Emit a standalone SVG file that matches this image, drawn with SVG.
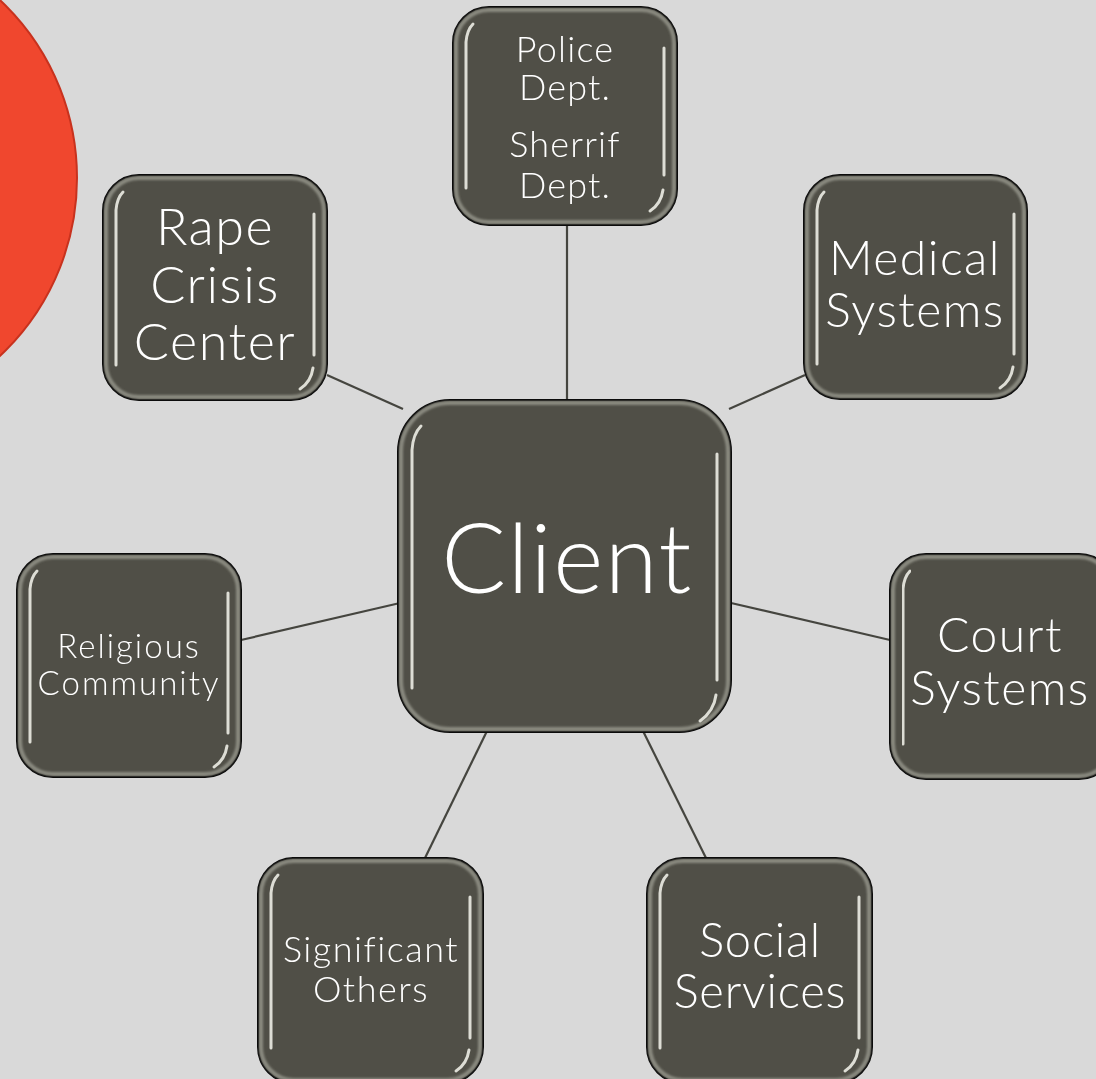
<svg xmlns="http://www.w3.org/2000/svg" width="1096" height="1079" viewBox="0 0 1096 1079">
<defs>
<style>
.box{fill:#504f47;stroke:#000;stroke-width:2}
.ring{fill:none;stroke:#8a8a80;stroke-width:4}
.hl{fill:none;stroke:#ecece4;stroke-width:3;stroke-linecap:round;opacity:0.9}
.t{fill:#fff;font-family:Lato,"Noto Sans",sans-serif;font-weight:300;text-anchor:middle}
.c{stroke:#45453f;stroke-width:2.2;fill:none}
</style>
<filter id="soft" x="-10%" y="-10%" width="120%" height="120%"><feGaussianBlur stdDeviation="1.2"/></filter>
<filter id="soft2" x="-10%" y="-10%" width="120%" height="120%"><feGaussianBlur stdDeviation="0.7"/></filter>
</defs>
<rect width="1096" height="1079" fill="#d9d9d9"/>
<circle cx="-167" cy="178" r="244" fill="#f0472e" stroke="#c8321e" stroke-width="2"/>
<g id="connectors">
<line class="c" x1="567" y1="225" x2="567" y2="401"/>
<line class="c" x1="327" y1="375" x2="403" y2="409"/>
<line class="c" x1="805" y1="375" x2="729" y2="409"/>
<line class="c" x1="241" y1="640" x2="400" y2="603"/>
<line class="c" x1="731" y1="603" x2="890" y2="640"/>
<line class="c" x1="425" y1="858" x2="487" y2="731"/>
<line class="c" x1="643" y1="731" x2="706" y2="858"/>
</g>
<g id="police">
<rect class="box" x="453" y="7" width="224" height="218" rx="36"/>
<rect class="ring" x="456" y="10" width="218" height="212" rx="33" filter="url(#soft)"/>
<g filter="url(#soft2)"><path class="hl" d="M466,188 L466,42 Q467,30 473,24"/><path class="hl" d="M664,48 L664,175 M663,190 Q661,204 650,211"/></g>
<text class="t" font-size="36" letter-spacing="1.2"><tspan x="565" y="62">Police</tspan><tspan x="565" y="100">Dept.</tspan><tspan x="565" y="157">Sherrif</tspan><tspan x="565" y="198">Dept.</tspan></text>
</g>
<g id="rape">
<rect class="box" x="103" y="175" width="224" height="225" rx="36"/>
<rect class="ring" x="106" y="178" width="218" height="219" rx="33" filter="url(#soft)"/>
<g filter="url(#soft2)"><path class="hl" d="M116,365 L116,210 Q117,198 123,192"/><path class="hl" d="M314,214 L314,355 M313,368 Q311,382 300,389"/></g>
<text class="t" font-size="52" letter-spacing="1.5"><tspan x="215" y="245">Rape</tspan><tspan x="215" y="303">Crisis</tspan><tspan x="215" y="360">Center</tspan></text>
</g>
<g id="medical">
<rect class="box" x="804" y="175" width="223" height="224" rx="36"/>
<rect class="ring" x="807" y="178" width="217" height="218" rx="33" filter="url(#soft)"/>
<g filter="url(#soft2)"><path class="hl" d="M817,364 L817,210 Q818,198 824,192"/><path class="hl" d="M1014,214 L1014,354 M1013,367 Q1011,381 1000,388"/></g>
<text class="t" font-size="48" letter-spacing="1.5"><tspan x="915" y="275">Medical</tspan><tspan x="915" y="327">Systems</tspan></text>
</g>
<g id="client">
<rect class="box" x="398" y="400" width="333" height="332" rx="52"/>
<rect class="ring" x="401" y="403" width="327" height="326" rx="49" filter="url(#soft)"/>
<g filter="url(#soft2)"><path class="hl" d="M412,688 L412,450 Q413,434 421,426"/><path class="hl" d="M717,454 L717,680 M716,695 Q714,711 700,721"/></g>
<text class="t" font-size="96" letter-spacing="1.5" x="567" y="593">Client</text>
</g>
<g id="religious">
<rect class="box" x="17" y="554" width="224" height="223" rx="36"/>
<rect class="ring" x="20" y="557" width="218" height="217" rx="33" filter="url(#soft)"/>
<g filter="url(#soft2)"><path class="hl" d="M30,742 L30,589 Q31,577 37,571"/><path class="hl" d="M228,593 L228,733 M227,746 Q225,760 214,767"/></g>
<text class="t" font-size="33" letter-spacing="2"><tspan x="129" y="658">Religious</tspan><tspan x="129" y="695">Community</tspan></text>
</g>
<g id="court">
<rect class="box" x="890" y="554" width="225" height="225" rx="36"/>
<rect class="ring" x="893" y="557" width="219" height="219" rx="33" filter="url(#soft)"/>
<g filter="url(#soft2)"><path class="hl" d="M903,744 L903,589 Q904,577 910,571"/></g>
<text class="t" font-size="48" letter-spacing="1.5"><tspan x="1000" y="652">Court</tspan><tspan x="1000" y="705">Systems</tspan></text>
</g>
<g id="significant">
<rect class="box" x="258" y="858" width="225" height="225" rx="36"/>
<rect class="ring" x="261" y="861" width="219" height="219" rx="33" filter="url(#soft)"/>
<g filter="url(#soft2)"><path class="hl" d="M271,1048 L271,893 Q272,881 278,875"/><path class="hl" d="M470,897 L470,1038 M469,1050 Q467,1064 456,1071"/></g>
<text class="t" font-size="36" letter-spacing="1.5"><tspan x="371" y="962">Significant</tspan><tspan x="371" y="1002">Others</tspan></text>
</g>
<g id="social">
<rect class="box" x="647" y="858" width="225" height="225" rx="36"/>
<rect class="ring" x="650" y="861" width="219" height="219" rx="33" filter="url(#soft)"/>
<g filter="url(#soft2)"><path class="hl" d="M660,1048 L660,893 Q661,881 667,875"/><path class="hl" d="M859,897 L859,1038 M858,1050 Q856,1064 845,1071"/></g>
<text class="t" font-size="47" letter-spacing="0.8"><tspan x="760" y="957">Social</tspan><tspan x="760" y="1008">Services</tspan></text>
</g>
</svg>
